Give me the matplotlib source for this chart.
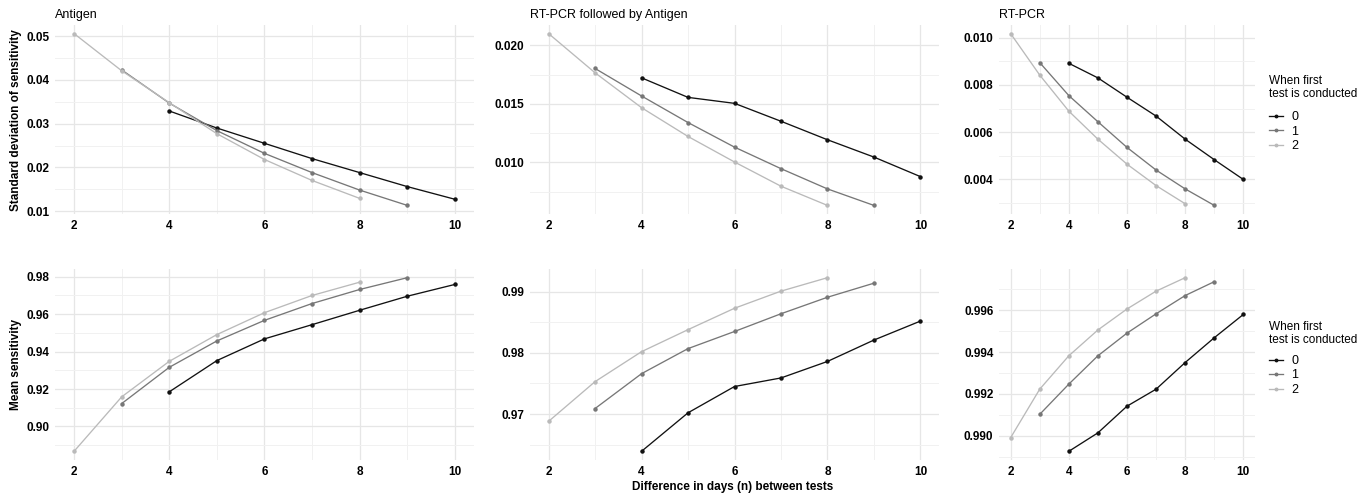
import numpy as np
import matplotlib
matplotlib.use("Agg")
import matplotlib.pyplot as plt
from matplotlib.ticker import MultipleLocator, FormatStrFormatter

# =========================================================
# 1. DATA
# =========================================================

days_0 = [4, 5, 6, 7, 8, 9, 10]
days_1 = [3, 4, 5, 6, 7, 8, 9]
days_2 = [2, 3, 4, 5, 6, 7, 8]

groups = ["0", "1", "2"]
panel_titles = ["Antigen", "RT-PCR followed by Antigen", "RT-PCR"]

# standard deviation of sensitivity
sd_antigen_0 = [0.0329, 0.0290, 0.0255, 0.0220, 0.0188, 0.0156, 0.0127]
sd_antigen_1 = [0.0423, 0.0347, 0.0284, 0.0232, 0.0188, 0.0148, 0.0113]
sd_antigen_2 = [0.0506, 0.0421, 0.0348, 0.0277, 0.0218, 0.0170, 0.0129]

sd_combo_0 = [0.01722, 0.01555, 0.01504, 0.01351, 0.01193, 0.01045, 0.00878]
sd_combo_1 = [0.01802, 0.01567, 0.01340, 0.01130, 0.00946, 0.00773, 0.00632]
sd_combo_2 = [0.02100, 0.01765, 0.01467, 0.01221, 0.01003, 0.00796, 0.00632]

sd_pcr_0 = [0.00892, 0.00830, 0.00748, 0.00668, 0.00570, 0.00483, 0.00399]
sd_pcr_1 = [0.00895, 0.00755, 0.00644, 0.00535, 0.00439, 0.00359, 0.00289]
sd_pcr_2 = [0.01018, 0.00842, 0.00689, 0.00570, 0.00464, 0.00373, 0.00296]

# mean sensitivity
mean_antigen_0 = [0.9185, 0.9352, 0.9468, 0.9544, 0.9621, 0.9696, 0.9759]
mean_antigen_1 = [0.9122, 0.9316, 0.9457, 0.9567, 0.9657, 0.9732, 0.9795]
mean_antigen_2 = [0.8867, 0.9158, 0.9348, 0.9491, 0.9608, 0.9700, 0.9771]

mean_combo_0 = [0.9639, 0.9702, 0.9745, 0.9759, 0.9786, 0.9821, 0.9852]
mean_combo_1 = [0.9709, 0.9766, 0.9807, 0.9835, 0.9864, 0.9891, 0.9914]
mean_combo_2 = [0.9688, 0.9753, 0.9802, 0.9838, 0.9873, 0.9901, 0.9923]

mean_pcr_0 = [0.98927, 0.99015, 0.99142, 0.99223, 0.99350, 0.99468, 0.99579]
mean_pcr_1 = [0.99103, 0.99247, 0.99382, 0.99490, 0.99582, 0.99669, 0.99735]
mean_pcr_2 = [0.98992, 0.99223, 0.99382, 0.99505, 0.99605, 0.99690, 0.99754]

# =========================================================
# 2. STYLE / LAYOUT
# =========================================================

plt.rcParams["font.family"] = ["Liberation Sans", "DejaVu Sans"]
plt.rcParams["font.size"] = 8.5

W, H = 1370, 496
colors = ["#111111", "#777777", "#bababa"]
days = [days_0, days_1, days_2]

# panel boxes in pixels: (left, right) and (top, bottom)
cols_px = [(55, 474), (530, 939), (999, 1255)]
rows_px = [(25, 214), (269, 460)]
legend_top_px = [70, 316]
legend_gap_pt = [8.0, 6.5]

rows = [
    [[sd_antigen_0, sd_antigen_1, sd_antigen_2],
     [sd_combo_0, sd_combo_1, sd_combo_2],
     [sd_pcr_0, sd_pcr_1, sd_pcr_2]],
    [[mean_antigen_0, mean_antigen_1, mean_antigen_2],
     [mean_combo_0, mean_combo_1, mean_combo_2],
     [mean_pcr_0, mean_pcr_1, mean_pcr_2]],
]

# (major step, minor step, format) per panel
y_ticks = [
    [(0.01, 0.005, "%.2f"), (0.005, 0.0025, "%.3f"), (0.002, 0.001, "%.3f")],
    [(0.02, 0.01, "%.2f"), (0.01, 0.005, "%.2f"), (0.002, 0.001, "%.3f")],
]

fig = plt.figure(figsize=(W / 100, H / 100), dpi=100)


def fx(x):
    return x / W


def fy(y):
    return 1 - y / H


for r, (top, bottom) in enumerate(rows_px):
    for c, (left, right) in enumerate(cols_px):
        ax = fig.add_axes([fx(left), fy(bottom), fx(right - left), (bottom - top) / H])
        for g in range(3):
            ax.plot(days[g], rows[r][c][g], color=colors[g], lw=0.95,
                    marker="o", ms=2.2, label=groups[g])
        ax.margins(x=0.05, y=0.05)

        major, minor, fmt = y_ticks[r][c]
        ax.xaxis.set_major_locator(MultipleLocator(2))
        ax.xaxis.set_minor_locator(MultipleLocator(1))
        ax.yaxis.set_major_locator(MultipleLocator(major))
        ax.yaxis.set_minor_locator(MultipleLocator(minor))
        ax.yaxis.set_major_formatter(FormatStrFormatter(fmt))

        ax.grid(which="major", color="#e6e6e6", lw=0.9)
        ax.grid(which="minor", color="#f1f1f1", lw=0.7)
        ax.set_axisbelow(True)
        for s in ax.spines.values():
            s.set_visible(False)
        ax.tick_params(which="both", length=0, pad=4, labelsize=8.5)
        for lab in ax.get_xticklabels() + ax.get_yticklabels():
            lab.set_fontweight("bold")

        if r == 0:
            fig.text(fx(left), fy(15), panel_titles[c], ha="left", va="center",
                     fontsize=9)

        if c == 2:
            leg = ax.legend(title="When first\ntest is conducted", loc="upper left",
                            bbox_to_anchor=(fx(1264), fy(legend_top_px[r])),
                            bbox_transform=fig.transFigure, frameon=False,
                            handlelength=1.1, handletextpad=0.7, labelspacing=0.2,
                            borderaxespad=0, fontsize=9, title_fontsize=8.5,
                            alignment="left", markerscale=0.8)
            leg.get_title().set_linespacing(1.1)
            # extra room between the title and the keys
            leg._legend_box.sep = legend_gap_pt[r]

fig.text(fx(16), fy(120), "Standard deviation of sensitivity", rotation=90,
         ha="center", va="center", fontweight="bold")
fig.text(fx(16), fy(365), "Mean sensitivity", rotation=90,
         ha="center", va="center", fontweight="bold")
fig.text(fx(733), fy(487), "Difference in days (n) between tests",
         ha="center", va="center", fontweight="bold")

fig.savefig("out.png", dpi=100)
